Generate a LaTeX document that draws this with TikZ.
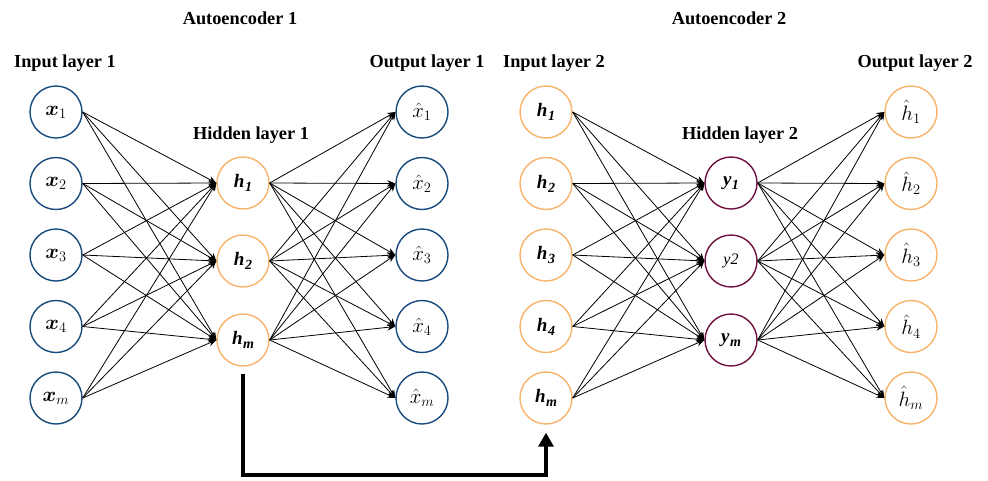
\documentclass[tikz,border=0pt]{standalone}
\usepackage{amsmath,bm}
\usepackage{fontspec}
\setmainfont{Liberation Serif}
\usetikzlibrary{arrows.meta,calc}

\definecolor{inblue}{HTML}{174A7C}
\definecolor{hidorange}{HTML}{F8B26A}
\definecolor{codemaroon}{HTML}{6E1040}

% bold italic letter with a bold italic, lowered index
\newcommand{\hb}[2]{{\fontsize{19}{20}\selectfont\bfseries\itshape #1\kern0.5pt\raisebox{-4pt}{\fontsize{14}{15}\selectfont #2}}}

\tikzset{
  neuron/.style={circle, line width=1.4pt, minimum size=52pt, inner sep=0pt,
    font=\fontsize{21}{22}\selectfont},
  bluen/.style={neuron, draw=inblue},
  orangen/.style={neuron, draw=hidorange},
  maroonn/.style={neuron, draw=codemaroon},
  layertitle/.style={font=\fontsize{18.3}{20}\selectfont\bfseries},
  link/.style={line width=0.8pt, -{Stealth[length=8pt,width=6.5pt]}},
  transfer/.style={line width=3.2pt, -{Triangle[length=14pt,width=15pt]}}
}

\begin{document}
\begin{tikzpicture}[x=1pt,y=-1pt]
\useasboundingbox (0,0) rectangle (988,480);

% titles
\node[layertitle] (ae1) at (240,18) {Autoencoder 1};
\node[layertitle] (ae2) at (729,18) {Autoencoder 2};
\node[layertitle] (tin1) at (65,63) {Input layer 1};
\node[layertitle] (tout1) at (427,63) {Output layer 1};
\node[layertitle] (thid1) at (251,135) {Hidden layer 1};
\node[layertitle] (tin2) at (554,63) {Input layer 2};
\node[layertitle] (tout2) at (915,63) {Output layer 2};
\node[layertitle] (thid2) at (740,135) {Hidden layer 2};

% autoencoder 1: input layer
\node[bluen] (a1) at (56,112)   {$\bm{x}_1$};
\node[bluen] (a2) at (56,183.5) {$\bm{x}_2$};
\node[bluen] (a3) at (56,255)   {$\bm{x}_3$};
\node[bluen] (a4) at (56,326.5) {$\bm{x}_4$};
\node[bluen] (a5) at (56,398)   {$\bm{x}_m$};
% autoencoder 1: hidden layer
\node[orangen] (b1) at (243,183) {\hb{h}{1}};
\node[orangen] (b2) at (243,261) {\hb{h}{2}};
\node[orangen] (b3) at (243,340) {\hb{h}{m}};
% autoencoder 1: output layer
\node[bluen] (c1) at (422,112)   {$\hat{x}_1$};
\node[bluen] (c2) at (422,183.5) {$\hat{x}_2$};
\node[bluen] (c3) at (422,255)   {$\hat{x}_3$};
\node[bluen] (c4) at (422,326.5) {$\hat{x}_4$};
\node[bluen] (c5) at (422,398)   {$\hat{x}_m$};

% autoencoder 2: input layer
\node[orangen] (d1) at (546,112)   {\hb{h}{1}};
\node[orangen] (d2) at (546,183.5) {\hb{h}{2}};
\node[orangen] (d3) at (546,255)   {\hb{h}{3}};
\node[orangen] (d4) at (546,326.5) {\hb{h}{4}};
\node[orangen] (d5) at (546,398)   {\hb{h}{m}};
% autoencoder 2: hidden layer
\node[maroonn] (e1) at (731,183) {\hb{y}{1}};
\node[maroonn] (e2) at (731,261) {\raisebox{-2pt}{\fontsize{16}{17}\selectfont\itshape y2}};
\node[maroonn] (e3) at (731,340) {\hb{y}{m}};
% autoencoder 2: output layer
\node[orangen] (f1) at (911,112)   {$\hat{h}_1$};
\node[orangen] (f2) at (911,183.5) {$\hat{h}_2$};
\node[orangen] (f3) at (911,255)   {$\hat{h}_3$};
\node[orangen] (f4) at (911,326.5) {$\hat{h}_4$};
\node[orangen] (f5) at (911,398)   {$\hat{h}_m$};

% fully connected layers
\foreach \i in {1,...,5}{
  \foreach \j in {1,2,3}{
    \draw[link] (a\i.east) -- (b\j.west);
    \draw[link] (b\j.east) -- (c\i.west);
    \draw[link] (d\i.east) -- (e\j.west);
    \draw[link] (e\j.east) -- (f\i.west);
  }
}

% hidden code of autoencoder 1 feeds autoencoder 2
\coordinate (floor) at (0,475);
\draw[transfer] ([yshift=-7pt]b3.south) -- (b3.south |- floor) -| ([yshift=-8pt]d5.south);
\end{tikzpicture}
\end{document}
